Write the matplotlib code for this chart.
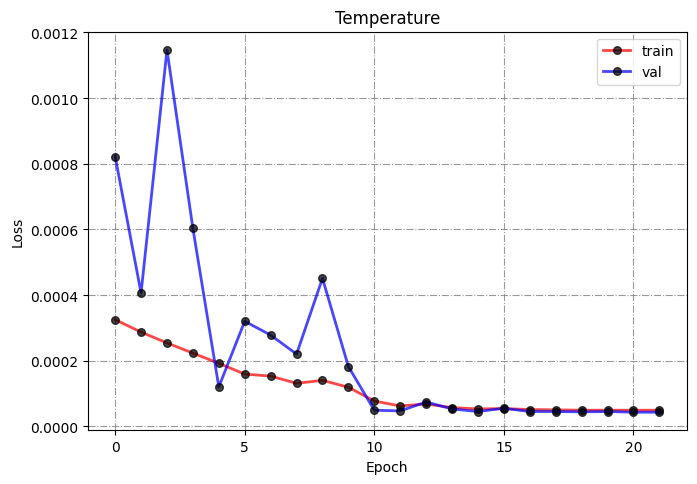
import matplotlib
matplotlib.use('Agg')
import matplotlib.pyplot as plt

# Loss values per epoch
epochs = list(range(22))
train_loss = [0.000325, 0.000287, 0.000254, 0.000223, 0.000192, 0.000159, 0.000153, 0.000131,
              0.000140, 0.000119, 0.000077, 0.000062, 0.000068, 0.000057, 0.000053, 0.000054,
              0.000051, 0.000050, 0.000049, 0.000049, 0.000049, 0.000049]
val_loss = [0.000822, 0.000406, 0.001147, 0.000603, 0.000120, 0.000320, 0.000278, 0.000220,
            0.000451, 0.000182, 0.000049, 0.000047, 0.000074, 0.000053, 0.000045, 0.000055,
            0.000045, 0.000045, 0.000044, 0.000045, 0.000043, 0.000043]

fig = plt.figure(figsize=(6.97, 4.85), dpi=100)
plt.plot(epochs, train_loss, color='red', linewidth=2, alpha=0.72, marker='o',
         markersize=5.5, markerfacecolor='black', markeredgecolor='black', label='train')
plt.plot(epochs, val_loss, color='blue', linewidth=2, alpha=0.72, marker='o',
         markersize=5.5, markerfacecolor='black', markeredgecolor='black', label='val')
plt.title("Temperature")
plt.xlabel("Epoch")
plt.ylabel("Loss")
plt.grid(True, linestyle='-.', color='gray', alpha=0.8)
plt.legend(loc='upper right')
plt.tight_layout(pad=0.75)
plt.savefig("out.png", dpi=100)
